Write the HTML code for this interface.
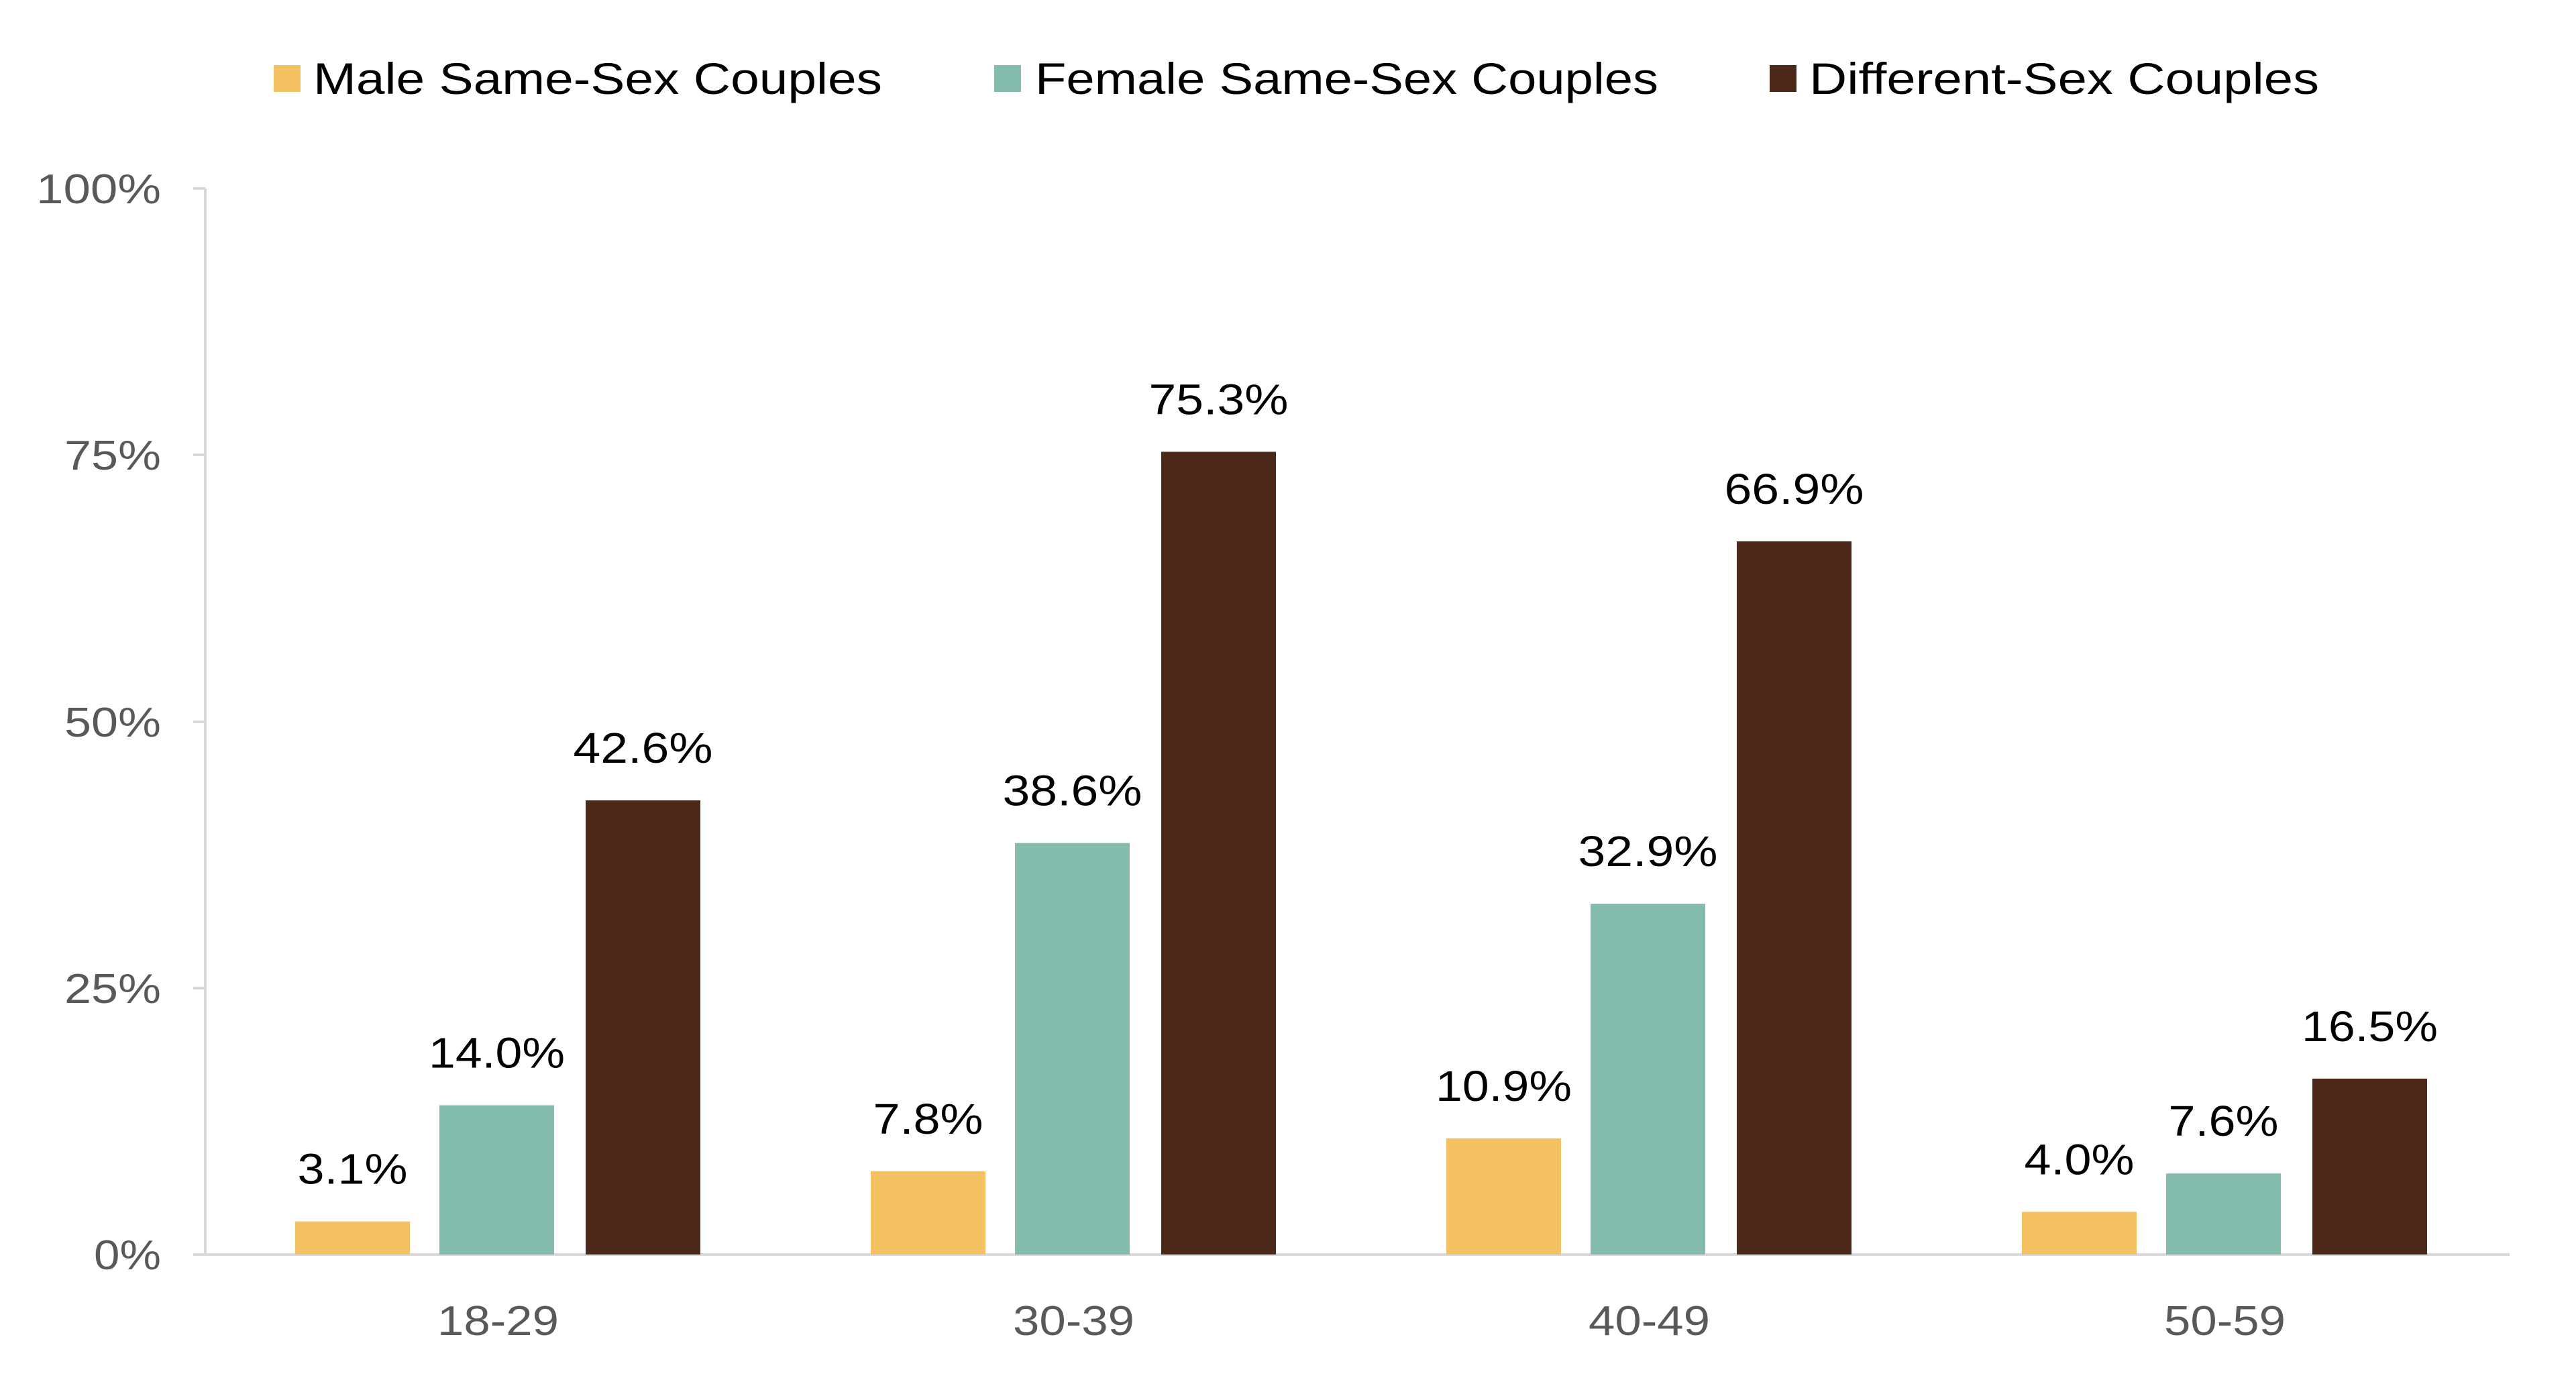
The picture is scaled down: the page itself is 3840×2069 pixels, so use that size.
<!DOCTYPE html>
<html><head><meta charset="utf-8"><style>
html,body{margin:0;padding:0;background:#fff;}
svg{display:block;font-family:"Liberation Sans",Arial,sans-serif;}
</style></head><body>
<svg width="3840" height="2069" viewBox="0 0 3840 2069" xmlns="http://www.w3.org/2000/svg">
<rect width="3840" height="2069" fill="#fff"/>
<rect x="408" y="97" width="40" height="40" fill="#F4C163"/>
<text x="467" y="140" font-size="66" fill="#000" textLength="848" lengthAdjust="spacingAndGlyphs">Male Same-Sex Couples</text>
<rect x="1482" y="97" width="40" height="40" fill="#83BBAD"/>
<text x="1543" y="140" font-size="66" fill="#000" textLength="929" lengthAdjust="spacingAndGlyphs">Female Same-Sex Couples</text>
<rect x="2638" y="97" width="40" height="40" fill="#4B2818"/>
<text x="2697" y="140" font-size="66" fill="#000" textLength="760" lengthAdjust="spacingAndGlyphs">Different-Sex Couples</text>
<g stroke="#D9D9D9" stroke-width="4">
<line x1="306" y1="281" x2="306" y2="1870"/>
<line x1="288" y1="1870" x2="3741" y2="1870"/>
<line x1="288" y1="281" x2="306" y2="281"/>
<line x1="288" y1="678" x2="306" y2="678"/>
<line x1="288" y1="1076" x2="306" y2="1076"/>
<line x1="288" y1="1473" x2="306" y2="1473"/>
</g>
<g font-size="62" fill="#595959" lengthAdjust="spacingAndGlyphs">
<text x="54" y="303" textLength="186" lengthAdjust="spacingAndGlyphs">100%</text>
<text x="96" y="700" textLength="144" lengthAdjust="spacingAndGlyphs">75%</text>
<text x="96" y="1098" textLength="144" lengthAdjust="spacingAndGlyphs">50%</text>
<text x="96" y="1495" textLength="144" lengthAdjust="spacingAndGlyphs">25%</text>
<text x="140" y="1892" textLength="100" lengthAdjust="spacingAndGlyphs">0%</text>
</g>
<g font-size="62" fill="#595959">
<text x="652" y="1990" textLength="181" lengthAdjust="spacingAndGlyphs">18-29</text>
<text x="1510" y="1990" textLength="181" lengthAdjust="spacingAndGlyphs">30-39</text>
<text x="2368" y="1990" textLength="181" lengthAdjust="spacingAndGlyphs">40-49</text>
<text x="3226" y="1990" textLength="181" lengthAdjust="spacingAndGlyphs">50-59</text>
</g>
<g id="bars"></g>
<script>
var d=[[3.1,14.0,42.6],[7.8,38.6,75.3],[10.9,32.9,66.9],[4.0,7.6,16.5]];
var c=["#F4C163","#83BBAD","#4B2818"];var offs=[440,655,873];
var g=document.getElementById("bars");var ns="http://www.w3.org/2000/svg";
for(var i=0;i<4;i++)for(var j=0;j<3;j++){var v=d[i][j];var x=offs[j]+i*858;var h=v*15.89;var y=1870-h;
var r=document.createElementNS(ns,"rect");r.setAttribute("x",x);r.setAttribute("y",y);r.setAttribute("width",171);r.setAttribute("height",h);r.setAttribute("fill",c[j]);g.appendChild(r);
var s=v.toFixed(1)+"%";var w=s.length==4?164:(s.charAt(0)=="1"?203:208);
var t=document.createElementNS(ns,"text");t.setAttribute("x",x+85.5-w/2);t.setAttribute("y",y-56);t.setAttribute("font-size","64");t.setAttribute("textLength",w);t.setAttribute("lengthAdjust","spacingAndGlyphs");t.setAttribute("fill","#000");t.textContent=s;g.appendChild(t);}
</script>
</svg>
</body></html>
